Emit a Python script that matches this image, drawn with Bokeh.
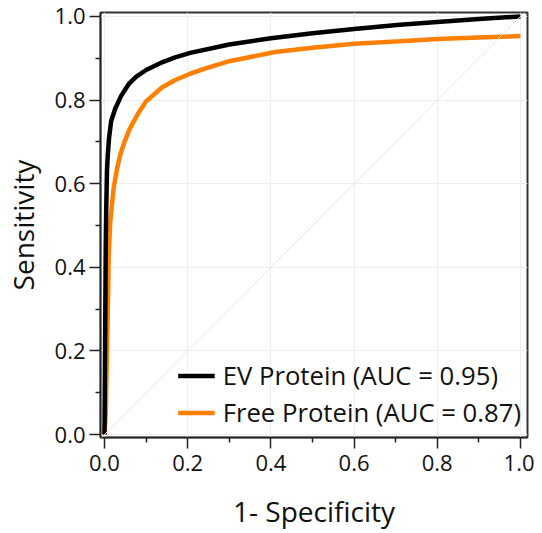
from bokeh.plotting import figure
from bokeh.models import Range1d, FixedTicker, Slope, Legend, LegendItem, PrintfTickFormatter
from bokeh.embed import file_html
from bokeh.resources import INLINE

# ROC curve data
ev_fpr = [0.0, 0.001, 0.002, 0.003, 0.004, 0.006, 0.008, 0.011, 0.016, 0.026, 0.04,
          0.058, 0.075, 0.1, 0.14, 0.17, 0.206, 0.3, 0.4, 0.5, 0.6, 0.71, 0.8, 0.9, 1.0]
ev_tpr = [0.0, 0.15, 0.3, 0.45, 0.53, 0.63, 0.67, 0.71, 0.75, 0.78, 0.81,
          0.838, 0.855, 0.872, 0.891, 0.902, 0.913, 0.933, 0.948, 0.96, 0.97, 0.98, 0.987, 0.994, 1.0]
free_fpr = [0.0, 0.003, 0.004, 0.006, 0.009, 0.010, 0.014, 0.022, 0.03, 0.038, 0.048, 0.06, 0.082,
            0.1, 0.138, 0.17, 0.206, 0.25, 0.3, 0.41, 0.5, 0.6, 0.71, 0.8, 0.9, 1.0]
free_tpr = [0.0, 0.05, 0.1, 0.2, 0.35, 0.43, 0.51, 0.59, 0.635, 0.67, 0.70, 0.73, 0.77,
            0.797, 0.83, 0.848, 0.863, 0.878, 0.893, 0.915, 0.925, 0.935, 0.941, 0.946, 0.95, 0.953]
ev_label = "EV Protein (AUC = 0.95)"
free_label = "Free Protein (AUC = 0.87)"
x_title = "1- Specificity"
y_title = "Sensitivity"
ticks = [0.0, 0.2, 0.4, 0.6, 0.8, 1.0]
minor = [0.1, 0.3, 0.5, 0.7, 0.9]

FONT = "Open Sans"

p = figure(width=534, height=532, output_backend="svg", toolbar_location=None,
           x_range=Range1d(-0.0096, 1.017), y_range=Range1d(-0.007, 1.0095),
           min_border_left=100, min_border_right=7, min_border_top=12, min_border_bottom=94)

p.outline_line_color = "#333333"
p.outline_line_width = 2
p.background_fill_color = "white"
p.border_fill_color = "white"

for ax in (p.xaxis[0], p.yaxis[0]):
    ax.ticker = FixedTicker(ticks=ticks, minor_ticks=minor)
    ax.formatter = PrintfTickFormatter(format="%.1f")
    ax.major_tick_out = 11
    ax.major_tick_in = 0
    ax.minor_tick_out = 5
    ax.minor_tick_in = 0
    ax.axis_line_color = "#222222"
    ax.axis_line_width = 1.5
    ax.major_tick_line_color = "#222222"
    ax.major_tick_line_width = 1.5
    ax.minor_tick_line_color = "#222222"
    ax.minor_tick_line_width = 1.5
    ax.major_label_text_font = FONT
    ax.major_label_text_font_size = "22px"
    ax.major_label_text_color = "#111111"
    ax.axis_label_text_font = FONT
    ax.axis_label_text_font_size = "28px"
    ax.axis_label_text_font_style = "normal"
    ax.axis_label_text_color = "#111111"

p.xaxis.axis_label = x_title
p.yaxis.axis_label = y_title
p.xaxis.major_label_standoff = 6
p.yaxis.major_label_standoff = 4
p.xaxis.axis_label_standoff = 18
p.yaxis.axis_label_standoff = 10

p.xgrid.ticker = FixedTicker(ticks=ticks)
p.ygrid.ticker = FixedTicker(ticks=ticks)
p.grid.grid_line_color = "#EEEEEE"
p.grid.grid_line_width = 1

p.add_layout(Slope(gradient=1, y_intercept=0, line_color="#E6E6E6", line_width=1))

r_free = p.line(free_fpr, free_tpr, line_color="#FF8000", line_width=4.5)
r_ev = p.line(ev_fpr, ev_tpr, line_color="black", line_width=4.5)

legend = Legend(items=[LegendItem(label=ev_label, renderers=[r_ev]),
                       LegendItem(label=free_label, renderers=[r_free])],
                location="bottom_right")
legend.label_text_font = FONT
legend.label_text_font_size = "25.7px"
legend.label_text_color = "#111111"
legend.border_line_alpha = 0
legend.background_fill_alpha = 0
legend.glyph_width = 37
legend.glyph_height = 37
legend.label_height = 37
legend.label_standoff = 8
legend.spacing = 0
legend.margin = 3
legend.padding = 3
p.add_layout(legend)

open("out.html", "w").write(file_html(p, INLINE))
